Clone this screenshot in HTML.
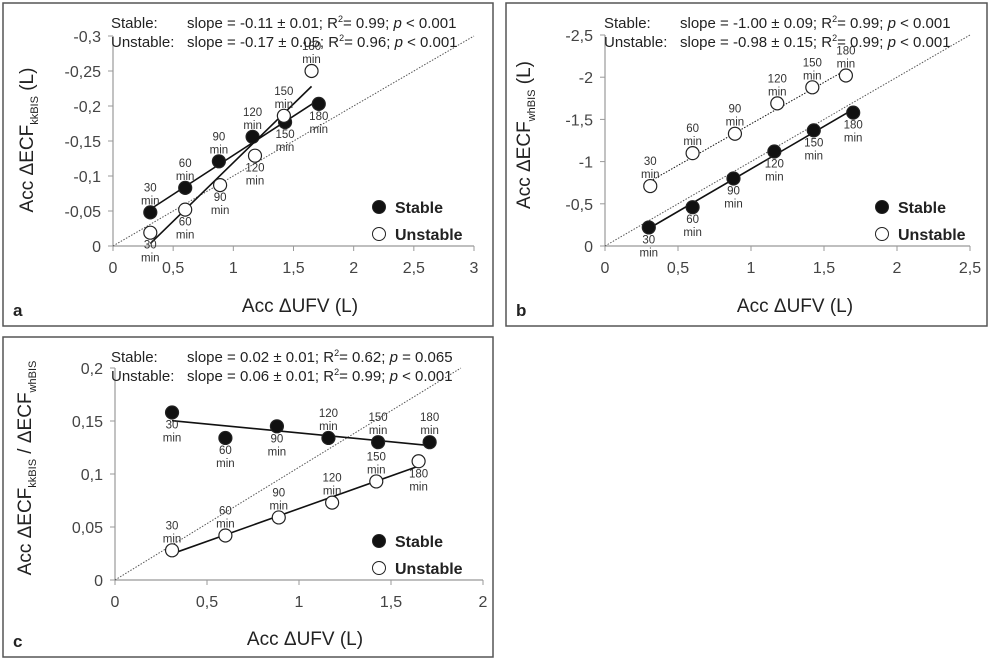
<!DOCTYPE html>
<html><head><meta charset="utf-8">
<style>
html,body{margin:0;padding:0;background:#fff;}
svg{display:block;font-family:"Liberation Sans",Arial,sans-serif;}
</style></head>
<body>
<svg id="fig" width="990" height="660" viewBox="0 0 990 660"></svg>
<script>
// ---- Panel a data ----
const aStableX = [0.31, 0.60, 0.88, 1.16, 1.43, 1.71];
const aStableY = [-0.048, -0.083, -0.121, -0.156, -0.177, -0.203];
const aUnstableX = [0.31, 0.60, 0.89, 1.18, 1.42, 1.65];
const aUnstableY = [-0.019, -0.052, -0.087, -0.129, -0.186, -0.250];
const aXTicks = ["0","0,5","1","1,5","2","2,5","3"];
const aYTicks = ["0","-0,05","-0,1","-0,15","-0,2","-0,25","-0,3"];
// ---- Panel b data ----
const bStableX = [0.30, 0.60, 0.88, 1.16, 1.43, 1.70];
const bStableY = [-0.22, -0.46, -0.80, -1.12, -1.37, -1.58];
const bUnstableX = [0.31, 0.60, 0.89, 1.18, 1.42, 1.65];
const bUnstableY = [-0.71, -1.10, -1.33, -1.69, -1.88, -2.02];
const bXTicks = ["0","0,5","1","1,5","2","2,5"];
const bYTicks = ["0","-0,5","-1","-1,5","-2","-2,5"];
// ---- Panel c data ----
const cStableX = [0.31, 0.60, 0.88, 1.16, 1.43, 1.71];
const cStableY = [0.158, 0.134, 0.145, 0.134, 0.130, 0.130];
const cUnstableX = [0.31, 0.60, 0.89, 1.18, 1.42, 1.65];
const cUnstableY = [0.028, 0.042, 0.059, 0.073, 0.093, 0.112];
const cXTicks = ["0","0,5","1","1,5","2"];
const cYTicks = ["0","0,05","0,1","0,15","0,2"];
const timeLabels = ["30","60","90","120","150","180"];

const NS = "http://www.w3.org/2000/svg";
const svg = document.getElementById("fig");
function mk(tag, attrs, parent, text){
  const e = document.createElementNS(NS, tag);
  for (const k in attrs) e.setAttribute(k, attrs[k]);
  if (text !== undefined) e.textContent = text;
  (parent || svg).appendChild(e);
  return e;
}
function fit(xs, ys){
  const n = xs.length; let sx=0, sy=0, sxx=0, sxy=0;
  for (let i=0;i<n;i++){sx+=xs[i];sy+=ys[i];sxx+=xs[i]*xs[i];sxy+=xs[i]*ys[i];}
  const m=(n*sxy-sx*sy)/(n*sxx-sx*sx); return {m:m, b:(sy-m*sx)/n};
}

function panel(cfg){
  const g = mk("g", {});
  
  
  const fr = mk("rect", {x:cfg.box[0], y:cfg.box[1], width:cfg.box[2], height:cfg.box[3], fill:"none", stroke:"#555", "stroke-width":1.5}, g);
  
  
  const xs = v => cfg.x0 + (v - cfg.xmin) / (cfg.xmax - cfg.xmin) * (cfg.x1 - cfg.x0);
  const ys = v => cfg.y0 - (v - cfg.ymin) / (cfg.ymax - cfg.ymin) * (cfg.y0 - cfg.y1);
  // axes
  const ax = mk("line", {x1:cfg.x0, y1:cfg.y0, x2:cfg.x1, y2:cfg.y0, stroke:"#999", "stroke-width":1.2}, g);
  
  
  const ay = mk("line", {x1:cfg.x0, y1:cfg.y0, x2:cfg.x0, y2:cfg.y1, stroke:"#999", "stroke-width":1.2}, g);
  
  
  cfg.xTicks.forEach((t,i)=>{
    const v = cfg.xmin + i*cfg.xstep, px = xs(v);
    mk("line", {x1:px, y1:cfg.y0, x2:px, y2:cfg.y0+5, stroke:"#999"}, g);
    const tx = mk("text", {x:px, y:cfg.y0+27, "text-anchor":"middle", "font-size":16, fill:"#444"}, g, t);
    
    
  });
  cfg.yTicks.forEach((t,i)=>{
    const v = cfg.ymin + i*cfg.ystep, py = ys(v);
    mk("line", {x1:cfg.x0-5, y1:py, x2:cfg.x0, y2:py, stroke:"#999"}, g);
    const ty = mk("text", {x:cfg.x0-12, y:py+6, "text-anchor":"end", "font-size":16, fill:"#444"}, g, t);
    
    
  });
  // identity line
  const id = mk("line", {x1:xs(0), y1:ys(0), x2:xs(cfg.idX), y2:ys(cfg.idY), stroke:"#555", "stroke-width":1, "stroke-dasharray":"1.5,1.5"}, g);
  
  
  // series
  [["stable", cfg.sX, cfg.sY, "#111", cfg.sPos, cfg.sDash],
   ["unstable", cfg.uX, cfg.uY, "#fff", cfg.uPos, cfg.uDash]].forEach(([nm, X, Y, fill, pos, dash])=>{
    const f = fit(X, Y);
    const x1 = Math.min(...X), x2 = Math.max(...X);
    const fl = mk("line", {x1:xs(x1), y1:ys(f.m*x1+f.b), x2:xs(x2), y2:ys(f.m*x2+f.b), stroke:"#111", "stroke-width":dash?1:1.6, "stroke-dasharray":dash?"1.5,1.5":"none"}, g);
    
    
    X.forEach((xv,i)=>{
      const cx = xs(xv), cy = ys(Y[i]);
      const c = mk("circle", {cx:cx, cy:cy, r:6.5, fill:fill, stroke:"#222", "stroke-width":1.2}, g);
      
      
      const above = pos[i] === 1;
      const ty1 = above ? cy-21 : cy+16, ty2 = ty1+13;
      const l1 = mk("text", {x:cx, y:ty1, "text-anchor":"middle", "font-size":11.5, fill:"#333"}, g, timeLabels[i]);
      
      
      const l2 = mk("text", {x:cx, y:ty2, "text-anchor":"middle", "font-size":11.5, fill:"#333"}, g, "min");
      
      
    });
  });
  // legend
  const lc1 = mk("circle", {cx:cfg.leg[0], cy:cfg.leg[1], r:6.5, fill:"#111", stroke:"#222"}, g);
  
  
  const lt1 = mk("text", {x:cfg.leg[0]+16, y:cfg.leg[1]+6, "font-size":16, "font-weight":"bold", fill:"#222"}, g, "Stable");
  
  
  const lc2 = mk("circle", {cx:cfg.leg[0], cy:cfg.leg[1]+27, r:6.5, fill:"#fff", stroke:"#222"}, g);
  
  
  const lt2 = mk("text", {x:cfg.leg[0]+16, y:cfg.leg[1]+33, "font-size":16, "font-weight":"bold", fill:"#222"}, g, "Unstable");
  
  
  // stats text
  const sl = cfg.stats;
  [[sl[0], cfg.hy], [sl[1], cfg.hy+19]].forEach(([s,yy],k)=>{
    const lab = mk("text", {x:cfg.hx, y:yy, "font-size":15, fill:"#222"}, g, k===0?"Stable:":"Unstable:");
    
    
    const t = mk("text", {x:cfg.hx+76, y:yy, "font-size":15, fill:"#222"}, g);
    
    
    mk("tspan", {}, t, "slope = " + s[0] + "; R");
    mk("tspan", {"font-size":9, dy:-6}, t, "2");
    mk("tspan", {dy:6}, t, "= " + s[1] + "; ");
    mk("tspan", {"font-style":"italic"}, t, "p");
    mk("tspan", {}, t, " " + s[2]);
  });
  // x title
  const xt = mk("text", {x:cfg.xtx, y:cfg.xty, "text-anchor":"middle", "font-size":19, fill:"#222"}, g, "Acc \u0394UFV (L)");
  
  
  // y title
  const yt = mk("text", {x:0, y:0, "text-anchor":"middle", "font-size":19, fill:"#222", transform:"translate("+cfg.ytx+","+cfg.yty+") rotate(-90)"}, g);
  
  
  cfg.ytitle(yt);
  // panel letter
  const pl = mk("text", {x:cfg.box[0]+10, y:cfg.box[1]+cfg.box[3]-10, "font-size":17, "font-weight":"bold", fill:"#222"}, g, cfg.letter);
  
  
}

function ecfTitle(sub, tail){
  return function(t){
    mk("tspan", {}, t, "Acc \u0394ECF");
    mk("tspan", {"font-size":11, dy:5}, t, sub);
    mk("tspan", {dy:-5}, t, tail);
  };
}

panel({name:"panel-a", letter:"a", box:[3,3,490,323],
  x0:113, x1:474, y0:246, y1:36, xmin:0, xmax:3, xstep:0.5, ymin:0, ymax:-0.3, ystep:-0.05,
  xTicks:aXTicks, yTicks:aYTicks, idX:3, idY:-0.3,
  sX:aStableX, sY:aStableY, uX:aUnstableX, uY:aUnstableY,
  sPos:[1,1,1,1,0,0], uPos:[0,0,0,0,1,1], sDash:false, uDash:false,
  leg:[379,207], hx:111, hy:28,
  stats:[["-0.11 \u00b1 0.01","0.99","< 0.001"],["-0.17 \u00b1 0.05","0.96","< 0.001"]],
  xtx:300, xty:312, ytx:33, yty:140, ytitle:ecfTitle("kkBIS"," (L)")});

panel({name:"panel-b", letter:"b", box:[506,3,481,323],
  x0:605, x1:970, y0:246, y1:35, xmin:0, xmax:2.5, xstep:0.5, ymin:0, ymax:-2.5, ystep:-0.5,
  xTicks:bXTicks, yTicks:bYTicks, idX:2.5, idY:-2.5,
  sX:bStableX, sY:bStableY, uX:bUnstableX, uY:bUnstableY,
  sPos:[0,0,0,0,0,0], uPos:[1,1,1,1,1,1], sDash:false, uDash:true,
  leg:[882,207], hx:604, hy:28,
  stats:[["-1.00 \u00b1 0.09","0.99","< 0.001"],["-0.98 \u00b1 0.15","0.99","< 0.001"]],
  xtx:795, xty:312, ytx:530, yty:135, ytitle:ecfTitle("whBIS"," (L)")});

panel({name:"panel-c", letter:"c", box:[3,337,490,320],
  x0:115, x1:483, y0:580, y1:368, xmin:0, xmax:2, xstep:0.5, ymin:0, ymax:0.2, ystep:0.05,
  xTicks:cXTicks, yTicks:cYTicks, idX:1.88, idY:0.2,
  sX:cStableX, sY:cStableY, uX:cUnstableX, uY:cUnstableY,
  sPos:[0,0,0,1,1,1], uPos:[1,1,1,1,1,0], sDash:false, uDash:false,
  leg:[379,541], hx:111, hy:362,
  stats:[["0.02 \u00b1 0.01","0.62","= 0.065"],["0.06 \u00b1 0.01","0.99","< 0.001"]],
  xtx:305, xty:645, ytx:31, yty:468,
  ytitle:function(t){
    mk("tspan", {}, t, "Acc \u0394ECF");
    mk("tspan", {"font-size":11, dy:5}, t, "kkBIS");
    mk("tspan", {dy:-5}, t, " / \u0394ECF");
    mk("tspan", {"font-size":11, dy:5}, t, "whBIS");
  }});
</script>
</body></html>
